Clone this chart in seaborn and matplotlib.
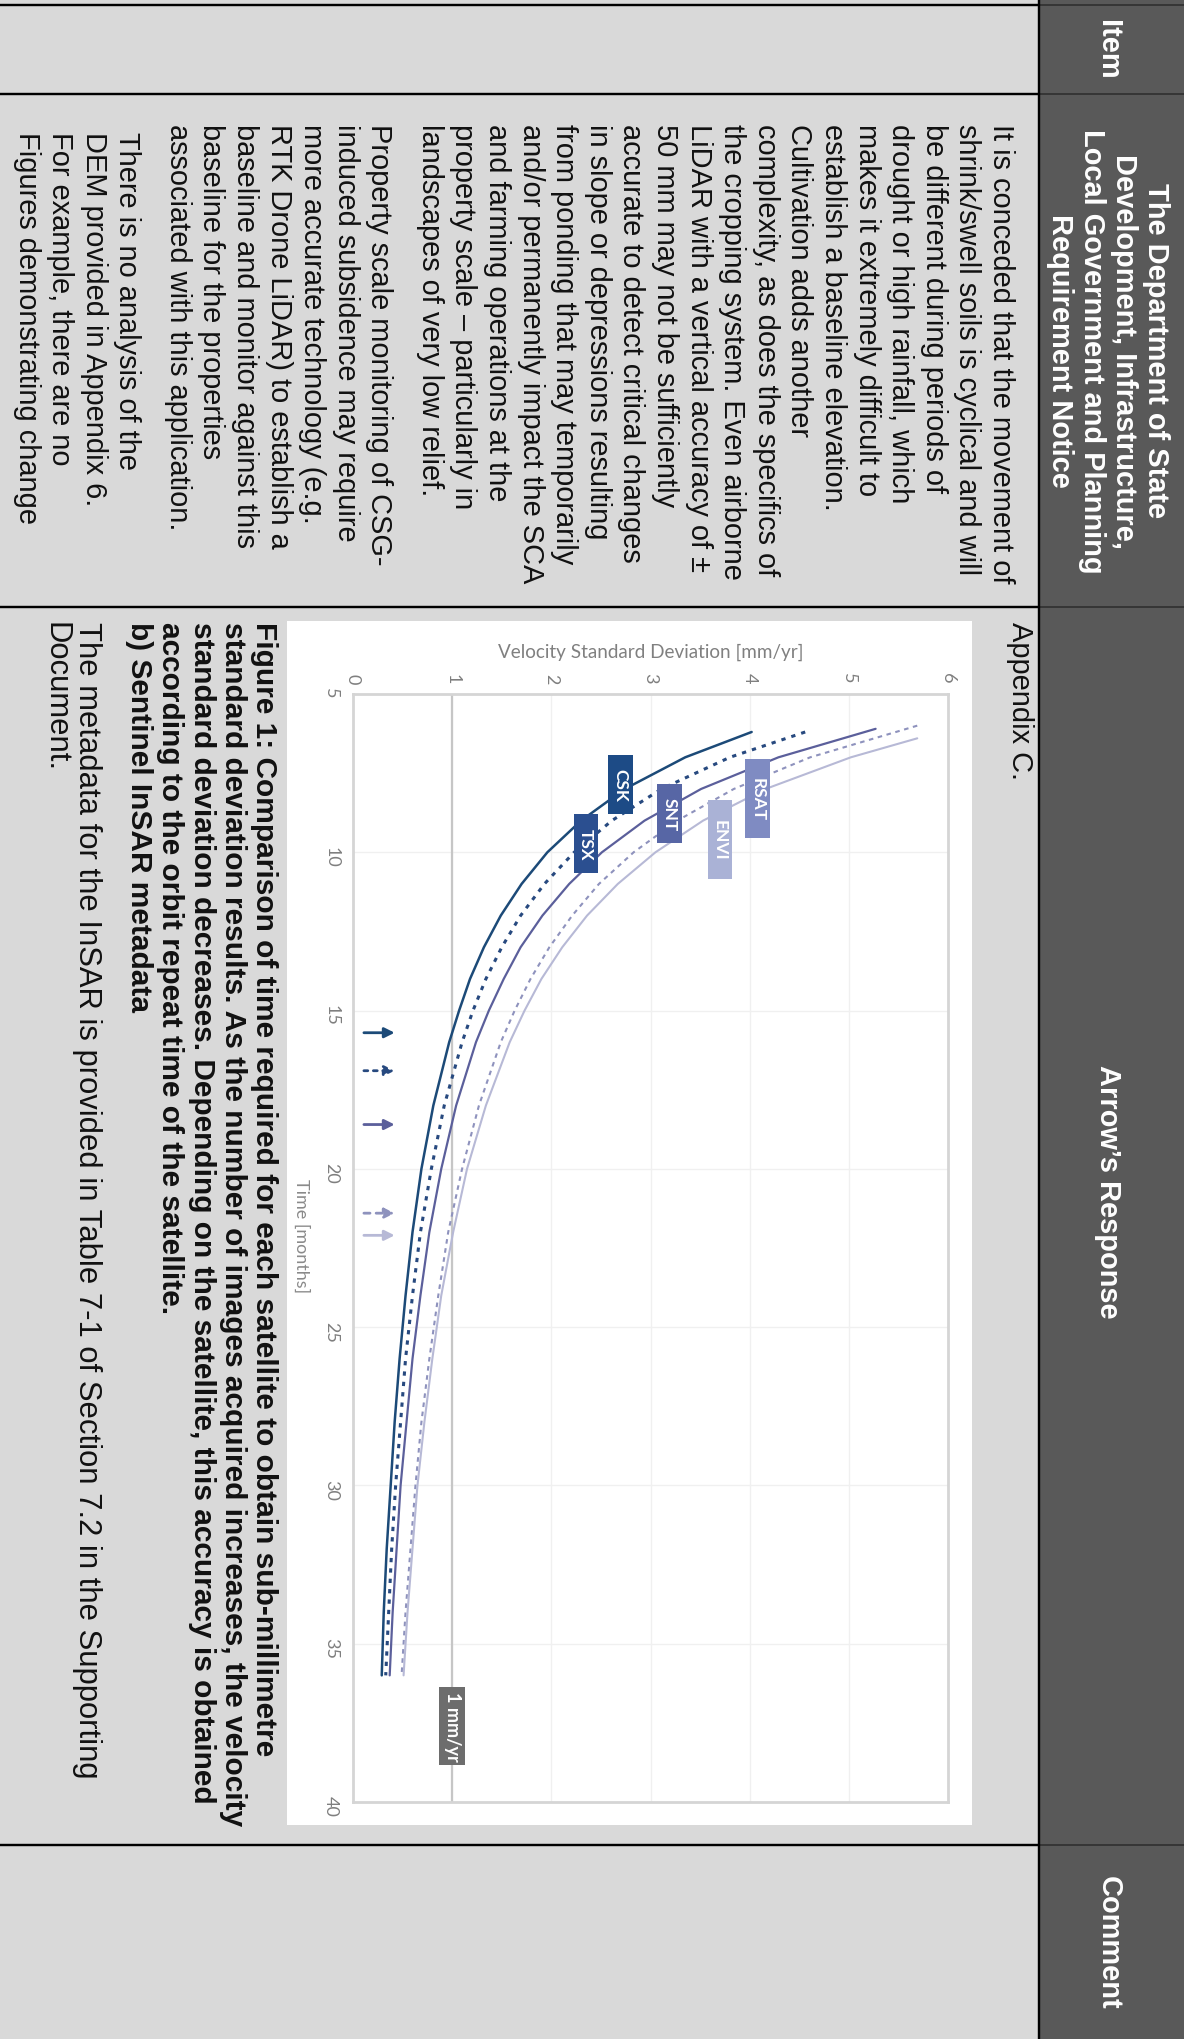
import numpy as np
import pandas as pd
import matplotlib
matplotlib.use("Agg")
import matplotlib.pyplot as plt
from matplotlib.patches import Rectangle
from matplotlib.lines import Line2D
import seaborn as sns

sns.set_style("white")
plt.rcParams["font.family"] = ["Liberation Sans", "DejaVu Sans"]

W, H, DPI = 1184, 2040, 100

# ---------------- chart data ----------------
satellites = ["CSK", "TSX", "SNT", "RSAT", "ENVI"]

csk_time = [6.2, 7, 8, 9, 10, 11, 12, 13, 14, 15, 16, 18, 20, 22, 24, 26, 28, 30, 32, 34, 36]
csk_vel = [4.02, 3.35, 2.74, 2.30, 1.96, 1.70, 1.49, 1.32, 1.18, 1.07, 0.97, 0.81, 0.69, 0.60,
           0.53, 0.47, 0.42, 0.38, 0.34, 0.31, 0.29]

tsx_time = [6.2, 7, 8, 9, 10, 11, 12, 13, 14, 15, 16, 18, 20, 22, 24, 26, 28, 30, 32, 34, 36]
tsx_vel = [4.56, 3.80, 3.11, 2.61, 2.23, 1.93, 1.69, 1.50, 1.34, 1.21, 1.10, 0.92, 0.79, 0.68,
           0.60, 0.53, 0.48, 0.43, 0.39, 0.36, 0.33]

snt_time = [6.1, 7, 8, 9, 10, 11, 12, 13, 14, 15, 16, 18, 20, 22, 24, 26, 28, 30, 32, 34, 36]
snt_vel = [5.27, 4.29, 3.51, 2.94, 2.51, 2.18, 1.91, 1.69, 1.52, 1.37, 1.24, 1.04, 0.89, 0.77,
           0.68, 0.60, 0.54, 0.48, 0.44, 0.40, 0.37]

rsat_time = [6.0, 7, 8, 9, 10, 11, 12, 13, 14, 15, 16, 18, 20, 22, 24, 26, 28, 30, 32, 34, 36]
rsat_vel = [5.69, 4.61, 3.84, 3.27, 2.83, 2.48, 2.21, 1.98, 1.79, 1.63, 1.49, 1.27, 1.10, 0.96,
            0.86, 0.77, 0.69, 0.63, 0.58, 0.53, 0.49]

envi_time = [6.4, 7, 8, 9, 10, 11, 12, 13, 14, 15, 16, 18, 20, 22, 24, 26, 28, 30, 32, 34, 36]
envi_vel = [5.69, 5.02, 4.16, 3.53, 3.05, 2.67, 2.36, 2.11, 1.90, 1.73, 1.58, 1.34, 1.15, 1.01,
            0.89, 0.80, 0.72, 0.65, 0.60, 0.55, 0.51]

# months needed to reach the 1 mm/yr threshold (arrow markers)
threshold = 1.0
arrow_time = [15.7, 16.9, 18.6, 21.4, 22.1]

# curve tag positions
tag_vel = [2.70, 2.35, 3.19, 4.08, 3.70]
tag_time = [7.86, 9.73, 8.77, 8.30, 9.60]

vel_ticks = [0, 1, 2, 3, 4, 5, 6]
time_ticks = [5, 10, 15, 20, 25, 30, 35, 40]

series = {
    "CSK": (csk_time, csk_vel),
    "TSX": (tsx_time, tsx_vel),
    "SNT": (snt_time, snt_vel),
    "RSAT": (rsat_time, rsat_vel),
    "ENVI": (envi_time, envi_vel),
}
df = pd.concat(
    [pd.DataFrame({"Satellite": s, "Time": series[s][0], "Velocity": series[s][1]}) for s in satellites],
    ignore_index=True,
)

line_color = {"CSK": "#1c4a78", "TSX": "#27497f", "SNT": "#5b5f9b", "RSAT": "#8e92bd", "ENVI": "#b7b9d6"}
line_style = {"CSK": "-", "TSX": (0, (1.4, 2.0)), "SNT": "-", "RSAT": (0, (2.2, 2.2)), "ENVI": "-"}
line_width = {"CSK": 1.8, "TSX": 2.2, "SNT": 1.6, "RSAT": 1.5, "ENVI": 1.5}
tag_color = {"CSK": "#1d4b86", "TSX": "#2b4f90", "SNT": "#5766a5", "RSAT": "#7f8bc2", "ENVI": "#aab2d6"}

# ---------------- page text ----------------
dept_paragraphs = [
    ["It is conceded that the movement of",
     "shrink/swell soils is cyclical and will",
     "be different during periods of",
     "drought or high rainfall, which",
     "makes it extremely difficult to",
     "establish a baseline elevation.",
     "Cultivation adds another",
     "complexity, as does the specifics of",
     "the cropping system. Even airborne",
     "LiDAR with a vertical accuracy of ±",
     "50 mm may not be sufficiently",
     "accurate to detect critical changes",
     "in slope or depressions resulting",
     "from ponding that may temporarily",
     "and/or permanently impact the SCA",
     "and farming operations at the",
     "property scale – particularly in",
     "landscapes of very low relief."],
    ["Property scale monitoring of CSG-",
     "induced subsidence may require",
     "more accurate technology (e.g.",
     "RTK Drone LiDAR) to establish a",
     "baseline and monitor against this",
     "baseline for the properties",
     "associated with this application."],
    ["There is no analysis of the",
     "DEM provided in Appendix 6.",
     "For example, there are no",
     "Figures demonstrating change"],
]
caption_lines = [
    "Figure 1: Comparison of time required for each satellite to obtain sub-millimetre",
    "standard deviation results. As the number of images acquired increases, the velocity",
    "standard deviation decreases. Depending on the satellite, this accuracy is obtained",
    "according to the orbit repeat time of the satellite.",
    "b) Sentinel InSAR metadata",
]
metadata_lines = [
    "The metadata for the InSAR is provided in Table 7-1 of Section 7.2 in the Supporting",
    "Document.",
]
header_cells = [
    (["Item"], 6, 95, 50),
    (["The Department of State", "Development, Infrastructure,",
      "Local Government and Planning", "Requirement Notice"], 95, 608, 351),
    (["Arrow’s Response"], 608, 1846, 1192),
    (["Comment"], 1846, 2040, 1943),
]

# ---------------- figure ----------------
fig = plt.figure(figsize=(W / DPI, H / DPI), dpi=DPI)
fig.patch.set_facecolor("#d9d9d9")


def fx(px):
    return px / W


def fy(py):
    return 1 - py / H


PT = 72 / DPI  # points per pixel

# header column
HEAD_X = 1039
fig.add_artist(Rectangle((fx(HEAD_X), 0), 1 - fx(HEAD_X), 1, transform=fig.transFigure,
                         facecolor="#595959", edgecolor="none", zorder=-3))
for _, y0, y1, _c in header_cells:
    fig.add_artist(Line2D([0, fx(HEAD_X)], [fy(y0), fy(y0)], color="black", lw=2.4 * PT,
                          transform=fig.transFigure, zorder=-1))
    fig.add_artist(Line2D([fx(HEAD_X), 1], [fy(y0), fy(y0)], color="#363636", lw=2.0 * PT,
                          transform=fig.transFigure, zorder=-1))
fig.add_artist(Line2D([fx(HEAD_X), fx(HEAD_X)], [0, 1], color="black", lw=2.4 * PT,
                      transform=fig.transFigure, zorder=-1))

HEAD_FS = 29 * PT
for lines, y0, y1, yc in header_cells:
    n = len(lines)
    pitch = 32
    base_mean = 1100.5
    for k, s in enumerate(lines):
        xb = base_mean + (n - 1) / 2 * pitch - k * pitch
        fig.text(fx(xb), fy(yc), s, rotation=-90, rotation_mode="anchor", ha="center",
                 va="baseline", color="white", fontsize=HEAD_FS, fontweight="bold")


def column_text(paragraphs, x_first, y_top, pitch, gap, size, weight="normal", indents=None):
    xb = x_first
    for p_i, para in enumerate(paragraphs):
        ind = 0 if indents is None else indents[p_i]
        for s in para:
            fig.text(fx(xb), fy(y_top + ind), s, rotation=-90, rotation_mode="anchor",
                     ha="left", va="baseline", color="#111111", fontsize=size, fontweight=weight)
            xb -= pitch
        xb -= gap


BODY_FS = 29 * PT
column_text(dept_paragraphs, 993, 124, 33.6, 16.8, BODY_FS, indents=[0, 0, 8])
column_text([["Appendix C."]], 1012, 622, 32.8, 0, BODY_FS)
column_text([caption_lines], 256, 622, 31.2, 0, 29.9 * PT, weight="bold")
column_text([metadata_lines], 79, 622, 32.0, 0, 31.0 * PT)

# white panel behind the chart
fig.add_artist(Rectangle((fx(287), fy(1826)), (972 - 287) / W, (1826 - 622) / H,
                         transform=fig.transFigure, facecolor="white", edgecolor="none", zorder=-1))

# ---------------- chart ----------------
CHART_FONT = ["Lato", "DejaVu Sans"]
ax = fig.add_axes([fx(353), fy(1803), (948 - 353) / W, (1803 - 695) / H])
ax.set_facecolor("white")

for s in satellites:
    sns.lineplot(data=df[df["Satellite"] == s], x="Velocity", y="Time", orient="y", ax=ax,
                 color=line_color[s], linestyle=line_style[s], linewidth=line_width[s],
                 legend=False, zorder=3)

ax.set_xlim(0, 6)
ax.set_ylim(40, 5)
ax.xaxis.tick_top()
ax.xaxis.set_label_position("top")
ax.set_xticks(vel_ticks)
ax.set_yticks(time_ticks)
ax.set_xticklabels([str(v) for v in vel_ticks], family=CHART_FONT)
ax.set_yticklabels([str(t) for t in time_ticks], family=CHART_FONT)
ax.tick_params(length=0, labelsize=13, labelcolor="#7f7f7f")
ax.tick_params(axis="x", labelrotation=-90, pad=8)
ax.tick_params(axis="y", labelrotation=-90, pad=10)
ax.grid(True, color="#f0f0f0", lw=1.0, zorder=0)
for sp in ax.spines.values():
    sp.set_color("#d5d5d5")
    sp.set_linewidth(2.0)

ax.set_xlabel("Velocity Standard Deviation [mm/yr]", family=CHART_FONT, fontsize=13.6,
              color="#808080", labelpad=11)
ax.set_ylabel("Time [months]", family=CHART_FONT, fontsize=13, color="#8a8a8a",
              rotation=-90, ha="center", va="center")
ax.yaxis.set_label_coords(-0.087, 1 - (22.1 - 5) / 35)

# 1 mm/yr reference line
ax.axvline(threshold, color="#c6c6c6", lw=1.6, zorder=1)
ax.text(threshold, 37.6, "1 mm/yr", rotation=-90, ha="center", va="center", color="white",
        fontsize=13, fontweight="bold", family=CHART_FONT, zorder=5,
        bbox=dict(boxstyle="square,pad=0.25", fc="#6d6d6d", ec="none"))

# curve tags: coloured boxes with the satellite name
TAG_W = 0.25
for s, v, t in zip(satellites, tag_vel, tag_time):
    tag_h = 0.62 * len(s)
    ax.add_patch(Rectangle((v - TAG_W / 2, t - tag_h / 2), TAG_W, tag_h, facecolor=tag_color[s],
                           edgecolor="none", zorder=6))
    ax.text(v, t, s, rotation=-90, ha="center", va="center", color="white", fontsize=12.5,
            fontweight="bold", family=CHART_FONT, zorder=7)

# arrows marking the time each curve reaches the threshold
for s, t in zip(satellites, arrow_time):
    ax.annotate("", xy=(0.42, t), xytext=(0.11, t),
                arrowprops=dict(arrowstyle="-|>,head_length=0.6,head_width=0.3",
                                color=line_color[s], lw=2.0, linestyle=line_style[s],
                                shrinkA=0, shrinkB=0), zorder=5)

fig.savefig("out.png", dpi=DPI, facecolor=fig.get_facecolor())
